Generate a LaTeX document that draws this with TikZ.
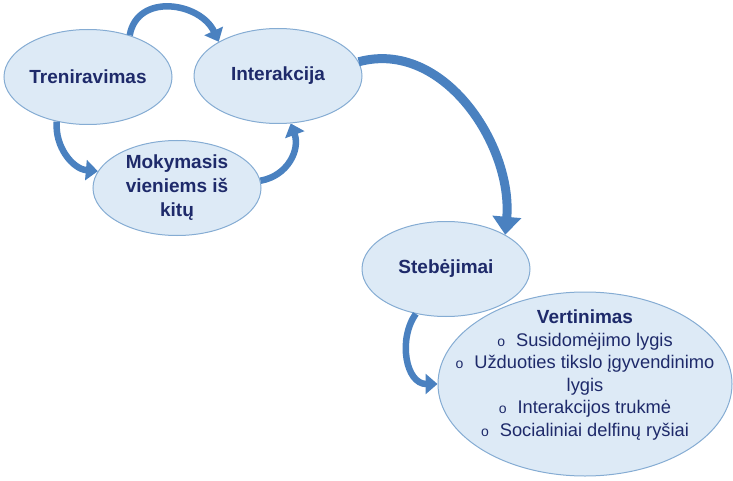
\documentclass[tikz,border=0pt]{standalone}
\usepackage{fontspec}
\setmainfont{Liberation Sans}
\usetikzlibrary{arrows.meta,shapes.geometric}
\definecolor{blobfill}{HTML}{DDEAF6}
\definecolor{blobline}{HTML}{85ACD3}
\definecolor{inkc}{HTML}{1E2A6A}
\definecolor{arrc}{HTML}{4A81C0}
\newcommand\bul{{\fontsize{14}{14}\selectfont o}\hspace{11pt}}
\tikzset{
  blob/.style={ellipse,draw=blobline,line width=1pt,fill=blobfill,inner sep=0pt,
    minimum width=168pt,minimum height=95pt,text=inkc,align=center,
    font=\fontsize{19}{24}\selectfont\bfseries},
  ar/.style={-{Triangle[length=12pt,width=20pt]},line width=6.5pt,arrc},
  bigar/.style={-{Triangle[length=18pt,width=28pt]},line width=9pt,arrc}
}
\begin{document}
\begin{tikzpicture}[x=1pt,y=-1pt]
\useasboundingbox (0,0) rectangle (733,481);
\node[blob] (T) at (88,77) {Treniravimas};
\node[blob] (I) at (278,76) {Interakcija};
\node[blob] (M) at (177,188) {Mokymasis\\vieniems iš\\kitų};
\node[blob] (S) at (446,269) {Stebėjimai};
\node[blob,minimum width=294pt,minimum height=184pt] (V) at (585,384) {};
\node[text=inkc,align=center,font=\fontsize{18.3}{22.5}\selectfont] (Vt) at (585,375)
  {{\fontsize{19}{22.5}\selectfont\bfseries Vertinimas}\\
   \bul Susidomėjimo lygis\\
   \bul Užduoties tikslo įgyvendinimo\\
   lygis\\
   \bul Interakcijos trukmė\\
   \bul Socialiniai delfinų ryšiai};
% cycle arrows
\draw[ar] (T.45) to[out=80,in=115,looseness=1.25] (I.150);
\draw[ar] (T.235) to[out=265,in=175] (M.168);
\draw[ar] (M.5) to[out=10,in=-70,looseness=1.1] (I.285);
% to the observations
\draw[bigar] (I.10) to[out=15,in=85] (S.30);
\draw[ar] (S.236) to[out=235,in=180,looseness=1.1] (V.west);
\end{tikzpicture}
\end{document}
